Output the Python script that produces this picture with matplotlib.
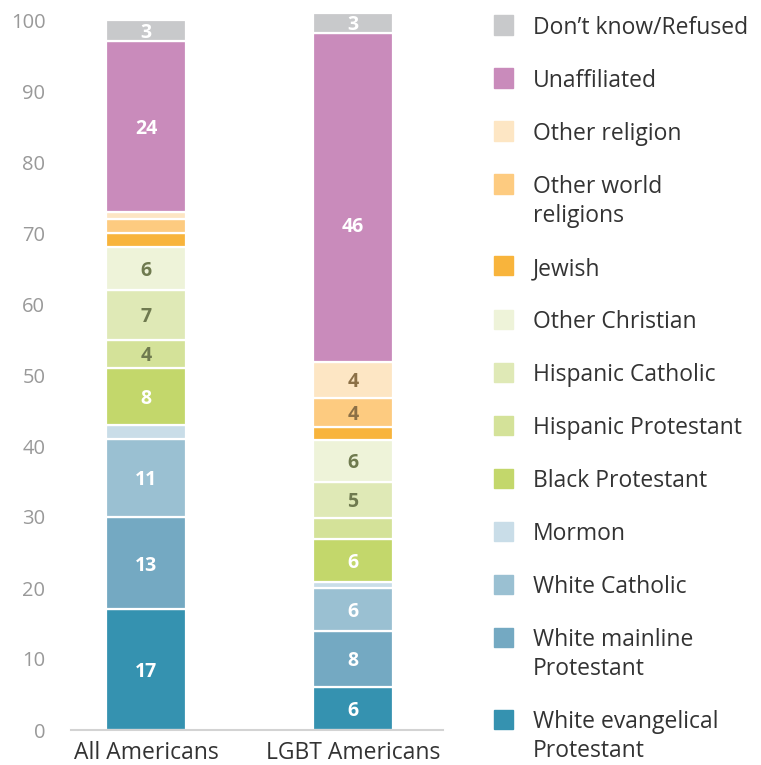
"""Religious affiliation of all Americans vs LGBT Americans (stacked bars)."""

import matplotlib

matplotlib.use("Agg")

import matplotlib.pyplot as plt
from matplotlib.patches import Rectangle

plt.rcParams["font.family"] = ["Open Sans", "DejaVu Sans"]

GROUPS = ["All Americans", "LGBT Americans"]

# bottom to top
CATEGORIES = [
    "White evangelical\nProtestant",
    "White mainline\nProtestant",
    "White Catholic",
    "Mormon",
    "Black Protestant",
    "Hispanic Protestant",
    "Hispanic Catholic",
    "Other Christian",
    "Jewish",
    "Other world\nreligions",
    "Other religion",
    "Unaffiliated",
    "Don\u2019t know/Refused",
]

ALL_VALUES = [17, 13, 11, 2, 8, 4, 7, 6, 2, 2, 1, 24, 3]
LGBT_VALUES = [6, 8, 6, 0.9, 6, 3, 5, 6, 1.8, 4, 5.2, 46.3, 2.8]

ALL_LABELS = ["17", "13", "11", "", "8", "4", "7", "6", "", "", "", "24", "3"]
LGBT_LABELS = ["6", "8", "6", "", "6", "", "5", "6", "", "4", "4", "46", "3"]

COLORS = [
    "#3592b0", "#74a9c2", "#9ac0d2", "#c9dde8", "#c3d76b", "#d4e299",
    "#dfe9b6", "#eef3d9", "#f8b43c", "#fdcb80", "#fde6c4", "#c98bbb",
    "#c8c9cb",
]
LABEL_COLORS = [
    "white", "white", "white", "white", "white", "#6f7a4f",
    "#6f7a4f", "#6f7a4f", "white", "#8c7046", "#8c7046", "white",
    "white",
]

# the "46" label in the original sits a little below the segment centre
LABEL_NUDGE = {(1, 11): -3.8}

fig = plt.figure(figsize=(7.61, 7.65), dpi=100)
ax = fig.add_axes([71 / 761, 35 / 765, 372 / 761, 102 * 7.1 / 765])

x_pos = [0, 1]
width = 0.386
for x, values, labels in [(0, ALL_VALUES, ALL_LABELS), (1, LGBT_VALUES, LGBT_LABELS)]:
    bottom = 0.0
    for i, (val, lab, color, lcolor) in enumerate(zip(values, labels, COLORS, LABEL_COLORS)):
        ax.bar(x, val, width=width, bottom=bottom, color=color,
               edgecolor="white", linewidth=1.6)
        if lab:
            y = bottom + val / 2 + LABEL_NUDGE.get((x, i), 0)
            ax.text(x, y, lab, ha="center", va="center_baseline",
                    color=lcolor, fontsize=14, fontweight="bold")
        bottom += val

ax.set_xlim(-0.362, 1.435)
ax.set_ylim(0, 102)
ax.set_xticks(x_pos)
ax.set_xticklabels(GROUPS, fontsize=16.5, color="#333333")
ax.set_yticks(range(0, 101, 10))
ax.tick_params(axis="y", length=0, pad=18.5, labelsize=14.5, labelcolor="#999999")
ax.tick_params(axis="x", length=0, pad=8)
for side in ["top", "right", "left"]:
    ax.spines[side].set_visible(False)
ax.spines["bottom"].set_color("#d3d3d3")
ax.spines["bottom"].set_linewidth(1.5)

# legend, drawn by hand (top to bottom)
legend_y = 25
line_h = 29
for cat, color in zip(CATEGORIES[::-1], COLORS[::-1]):
    yf = 1 - legend_y / 765
    fig.patches.append(Rectangle((494 / 761, yf - 9.5 / 765), 19 / 761, 19 / 765,
                                 transform=fig.transFigure, color=color))
    lines = cat.split("\n")
    for i, line in enumerate(lines):
        fig.text(533 / 761, 1 - (legend_y + i * line_h) / 765, line,
                 ha="left", va="center_baseline", fontsize=16.5, color="#333333")
    legend_y += 53 + (len(lines) - 1) * line_h

fig.savefig("out.png", dpi=100)
